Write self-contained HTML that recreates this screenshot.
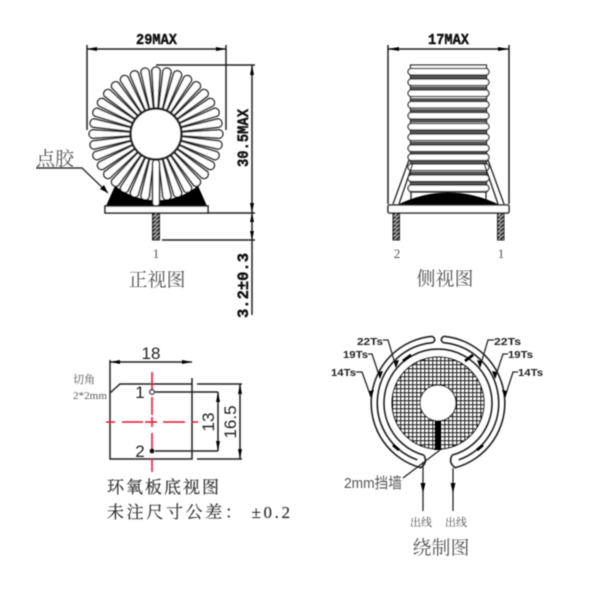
<!DOCTYPE html>
<html><head><meta charset="utf-8"><style>html,body{margin:0;padding:0;background:#fff;width:600px;height:600px;overflow:hidden}svg{display:block}
.d{font-family:"Liberation Mono",monospace;font-weight:bold;fill:#111;stroke:#111;stroke-width:.4}
.s{font-family:"Liberation Serif","Noto Serif CJK SC",serif;fill:#555}
.k{font-family:"Liberation Serif","Noto Serif CJK SC",serif;fill:#333;stroke:#333;stroke-width:.2}
.a{font-family:"Liberation Sans","Noto Sans CJK SC",sans-serif;fill:#222}
</style></head><body>
<svg width="600" height="600" viewBox="0 0 600 600" xmlns="http://www.w3.org/2000/svg">
<defs>
<filter id="b" x="0" y="0" width="100%" height="100%"><feGaussianBlur stdDeviation="0.55"/></filter>
<pattern id="g" width="4" height="4" patternUnits="userSpaceOnUse"><rect width="4" height="4" fill="#fff"/><path d="M0 .7H4M.7 0V4" stroke="#111" stroke-width="1.6"/></pattern>
<pattern id="h" width="4" height="4" patternUnits="userSpaceOnUse"><rect width="4" height="4" fill="#aaa"/><path d="M0 4L4 0" stroke="#111" stroke-width="1.7"/></pattern>
<path id="sp" d="M-1.9-26L-4.2-63.5A4.3 4.3 0 0 1 4.2-63.5L1.9-26Z" fill="#fff" stroke="#222" stroke-width="1.5"/>
<g id="rot"><path d="M432.2 336.3A67 67 0 0 0 420.7 467.7Q428 463 424 455.2M432.7 342.7A60.5 60.5 0 0 0 417.3 459.9M432.2 336.3Q437 339.5 432.7 342.7" fill="none" stroke="#222" stroke-width="1.6"/></g>
</defs>
<rect width="600" height="600" fill="#fff"/>
<g filter="url(#b)">
<!-- front view -->
<g transform="translate(156 134)">
<use href="#sp" transform="rotate(0)"/><use href="#sp" transform="rotate(10)"/><use href="#sp" transform="rotate(20)"/><use href="#sp" transform="rotate(30)"/><use href="#sp" transform="rotate(40)"/><use href="#sp" transform="rotate(50)"/><use href="#sp" transform="rotate(60)"/><use href="#sp" transform="rotate(70)"/><use href="#sp" transform="rotate(80)"/><use href="#sp" transform="rotate(90)"/><use href="#sp" transform="rotate(100)"/><use href="#sp" transform="rotate(110)"/><use href="#sp" transform="rotate(120)"/><use href="#sp" transform="rotate(130)"/><use href="#sp" transform="rotate(140)"/><use href="#sp" transform="rotate(150)"/><use href="#sp" transform="rotate(160)"/><use href="#sp" transform="rotate(170)"/><use href="#sp" transform="rotate(190)"/><use href="#sp" transform="rotate(200)"/><use href="#sp" transform="rotate(210)"/><use href="#sp" transform="rotate(220)"/><use href="#sp" transform="rotate(230)"/><use href="#sp" transform="rotate(240)"/><use href="#sp" transform="rotate(250)"/><use href="#sp" transform="rotate(260)"/><use href="#sp" transform="rotate(270)"/><use href="#sp" transform="rotate(280)"/><use href="#sp" transform="rotate(290)"/><use href="#sp" transform="rotate(300)"/><use href="#sp" transform="rotate(310)"/><use href="#sp" transform="rotate(320)"/><use href="#sp" transform="rotate(330)"/><use href="#sp" transform="rotate(340)"/><use href="#sp" transform="rotate(350)"/>
<circle r="25" fill="#fff" stroke="#222" stroke-width="1.500"/>
</g>
<path d="M106 206L115 185.700A66 66 0 0 0 198 185.700L207 206Z" fill="#000"/>
<rect x="152.500" y="160" width="7" height="46" rx="3" fill="#fff" stroke="#222" stroke-width="1.500"/>
<rect x="105" y="206" width="103" height="7" fill="#fff" stroke="#222" stroke-width="1.600"/>
<rect x="152.500" y="213" width="7" height="27" fill="url(#h)" stroke="#222" stroke-width="1"/>
<path d="M87 45V130M226 45V130M87 49H226M156 65H255M208 213H255M162 240H255M252 65V315" fill="none" stroke="#222" stroke-width="1.500"/>
<path d="M87 49L97 47V51ZM226 49L216 47V51ZM252 65L250 75H254ZM252 213L250 203H254ZM252 213L250 222H254ZM252 240L250 231H254Z" fill="#000"/>
<text class="d" x="136" y="44" font-size="15" textLength="41" lengthAdjust="spacingAndGlyphs">29MAX</text>
<text class="d" transform="translate(248 167) rotate(-90)" font-size="16" textLength="58" lengthAdjust="spacingAndGlyphs">30.5MAX</text>
<text class="d" transform="translate(248 318) rotate(-90)" font-size="16" textLength="65" lengthAdjust="spacingAndGlyphs">3.2±0.3</text>
<text class="s" x="36" y="165" font-size="19" textLength="38" lengthAdjust="spacingAndGlyphs">点胶</text>
<path d="M36 168H82L108 193" fill="none" stroke="#333" stroke-width="1.400"/>
<path d="M108 193L100 189L104 185Z" fill="#000"/>
<text class="s" x="156" y="258" font-size="13" text-anchor="middle">1</text>
<text class="s" x="157" y="286" font-size="19" text-anchor="middle">正视图</text>
<!-- side view -->
<path d="M388 45V204M509 45V204M388 49H509" fill="none" stroke="#222" stroke-width="1.500"/>
<path d="M388 49L399 47V51ZM509 49L498 47V51Z" fill="#000"/>
<text class="d" x="428" y="44" font-size="15" textLength="41" lengthAdjust="spacingAndGlyphs">17MAX</text>
<rect x="410.500" y="65" width="76" height="127" fill="#fff" stroke="#222" stroke-width="1.300"/>
<path d="M411 77H486M411 88H486M411 99.500H486M411 110.500H486M411 121H486M411 132H486M411 143H486M411 153H486M411 162.500H486M411 173H486M411 183.500H486" stroke="#555" stroke-width="3"/>
<g fill="#fff" stroke="#222" stroke-width="1.300">
<rect x="408" y="68.500" width="81" height="6.500" rx="3.200"/><rect x="408" y="79" width="81" height="6.500" rx="3.200"/><rect x="408" y="90" width="81" height="6.500" rx="3.200"/><rect x="408" y="101.500" width="81" height="6.500" rx="3.200"/><rect x="408" y="112.500" width="81" height="6.500" rx="3.200"/><rect x="408" y="123.500" width="81" height="6.500" rx="3.200"/><rect x="408" y="134" width="81" height="6.500" rx="3.200"/><rect x="408" y="145" width="81" height="6.500" rx="3.200"/><rect x="408" y="154" width="81" height="6.500" rx="3.200"/><rect x="408" y="164" width="81" height="6.500" rx="3.200"/><rect x="408" y="175" width="81" height="6.500" rx="3.200"/><rect x="408" y="185" width="81" height="6.500" rx="3.200"/>
</g>
<path d="M409 160L393 204M413 163L399 204M488 160L504 204M484 163L498 204M411 192V200M486 192V200" fill="none" stroke="#222" stroke-width="1.300"/>
<path d="M397 205Q448 180 500 205Z" fill="#000"/>
<rect x="388" y="205" width="121" height="8" rx="1.500" fill="#fff" stroke="#222" stroke-width="1.600"/>
<rect x="393" y="213" width="6.500" height="27" fill="url(#h)" stroke="#222" stroke-width="1"/>
<rect x="497.500" y="213" width="6.500" height="27" fill="url(#h)" stroke="#222" stroke-width="1"/>
<text class="s" x="397" y="258" font-size="13" text-anchor="middle">2</text>
<text class="s" x="501" y="258" font-size="13" text-anchor="middle">1</text>
<text class="s" x="445" y="285" font-size="19" text-anchor="middle">侧视图</text>
<!-- bottom view -->
<path d="M110 360V459H192V378M110 393L120 384H192M110 362H192M197 384H242M197 459H242M240 384V459M155 392H218M155 451H218M218 392V451" fill="none" stroke="#222" stroke-width="1.500"/>
<path d="M110 362L120 360V364ZM192 362L182 360V364ZM240 384L238 394H242ZM240 459L238 449H242ZM218 392L216 402H220ZM218 451L216 441H220Z" fill="#000"/>
<path d="M106 422H115M122 422H143M145 422H157M163 422H185M192 422H198M152 372V390M152 397V415M152 417V427M152 433V452M152 458V472" stroke="#e81830" stroke-width="1.500" fill="none"/>
<circle cx="152" cy="392" r="2.200" fill="#fff" stroke="#111" stroke-width="1.300"/>
<circle cx="152" cy="451" r="2.400" fill="#111"/>
<text class="a" x="151" y="359" font-size="17" text-anchor="middle">18</text>
<text class="a" x="140" y="398" font-size="17" text-anchor="middle">1</text>
<text class="a" x="140" y="457" font-size="17" text-anchor="middle">2</text>
<text class="a" transform="translate(214 422) rotate(-90)" font-size="17" text-anchor="middle">13</text>
<text class="a" transform="translate(236 422) rotate(-90)" font-size="17" text-anchor="middle">16.5</text>
<text class="s" x="73" y="383" font-size="11">切角</text>
<text class="s" x="73" y="399" font-size="10" textLength="34" lengthAdjust="spacingAndGlyphs">2*2mm</text>
<text class="k" x="107" y="493" font-size="17" textLength="112">环氧板底视图</text>
<text class="k" x="107" y="518" font-size="17" textLength="183">未注尺寸公差： ±0.2</text>
<!-- winding -->
<circle cx="438" cy="403" r="46" fill="url(#g)" stroke="#222" stroke-width="1.200"/>
<circle cx="438" cy="403" r="18" fill="#fff" stroke="#222" stroke-width="1.200"/>
<rect x="434.500" y="421" width="7" height="29" fill="#000"/>
<use href="#rot"/>
<use href="#rot" transform="matrix(-1 0 0 1 876 0)"/>
<path d="M424 455.200A54 54 0 1 1 452 455.200" fill="none" stroke="#222" stroke-width="1.600"/>
<path d="M423 462V511M453 468V511M383 340H388L396 367M368 354H372L380 378M356 372H362L371 397M494 340H488L480 367M508 354H503L495 378M518 372H513L505 397M403 478L440 450" fill="none" stroke="#222" stroke-width="1.300"/>
<path d="M420.500 483H425.500L423 493ZM450.500 483H455.500L453 493ZM394 361L399 360L396 368ZM378 372L383 371L380 379ZM369 391L374 390L371 398ZM477 360L482 361L480 368ZM492 371L497 372L495 379ZM502 390L507 391L505 398Z" fill="#000"/>
<path d="M403 361L411 355M393 445L399 450M473 355L465 361M483 445L477 450" stroke="#000" stroke-width="2.800"/>
<g font-size="10.500" font-weight="bold">
<text class="a" x="357" y="345" textLength="26" lengthAdjust="spacingAndGlyphs">22Ts</text>
<text class="a" x="343" y="358" textLength="25" lengthAdjust="spacingAndGlyphs">19Ts</text>
<text class="a" x="331" y="376" textLength="25" lengthAdjust="spacingAndGlyphs">14Ts</text>
<text class="a" x="494" y="345" textLength="27" lengthAdjust="spacingAndGlyphs">22Ts</text>
<text class="a" x="508" y="358" textLength="25" lengthAdjust="spacingAndGlyphs">19Ts</text>
<text class="a" x="518" y="376" textLength="25" lengthAdjust="spacingAndGlyphs">14Ts</text>
</g>
<text x="344" y="488" font-size="15" textLength="58" lengthAdjust="spacingAndGlyphs" style="font-family:'Liberation Sans','Noto Sans CJK SC',sans-serif;fill:#555">2mm挡墙</text>
<text class="s" x="421" y="526" font-size="11" text-anchor="middle">出线</text>
<text class="s" x="456" y="526" font-size="11" text-anchor="middle">出线</text>
<text class="s" x="441" y="554" font-size="19" text-anchor="middle">绕制图</text>
</g>
</svg>
</body></html>
